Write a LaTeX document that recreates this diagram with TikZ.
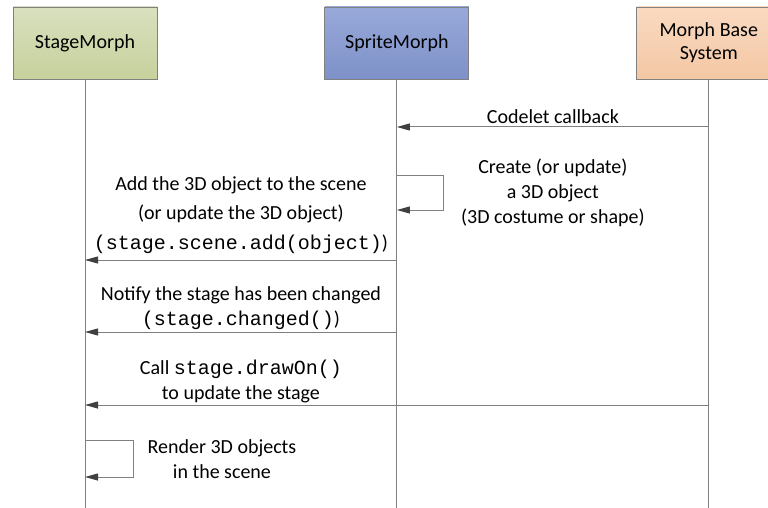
\documentclass[tikz,border=0pt]{standalone}
\usepackage{fontspec}
\setmainfont{Carlito}
\setmonofont{Liberation Mono}
\usetikzlibrary{arrows.meta, positioning, calc}
\definecolor{LineGrey}{HTML}{808080}
\definecolor{TipGrey}{HTML}{404040}
\definecolor{StageTop}{HTML}{D9E0BE}
\definecolor{StageBot}{HTML}{C7D19C}
\definecolor{SpriteTop}{HTML}{98A9D9}
\definecolor{SpriteBot}{HTML}{7E91C8}
\definecolor{BaseTop}{HTML}{FADAC1}
\definecolor{BaseBot}{HTML}{F3C7A4}
\tikzstyle{object} = [rectangle, draw=LineGrey, minimum width=144pt, minimum height=72pt, text centered, align=center, line width=0.9pt]
\tikzstyle{lifeline} = [color=LineGrey, line width=0.9pt]
\tikzstyle{msg} = [color=LineGrey, line width=1pt, -{Triangle[length=13pt, width=7pt, color=TipGrey]}]
\tikzstyle{note} = [align=center, text=black, inner sep=2pt]

\begin{document}
\begin{tikzpicture}[x=1pt, y=-1pt, font=\fontsize{20}{25}\selectfont]
        \useasboundingbox (0,0) rectangle (768,508);
        \node [object, top color=StageTop, bottom color=StageBot] (stage) at (85,43) {StageMorph};
        \node [object, right=167pt of stage, top color=SpriteTop, bottom color=SpriteBot] (sprite) {SpriteMorph};
        \node [object, right=167pt of sprite, top color=BaseTop, bottom color=BaseBot] (base) {Morph Base\\[-2pt]System};

        % Lifelines
        \coordinate (end) at (0,508);
        \draw [lifeline] (stage.south) -- (stage |- end);
        \draw [lifeline] (sprite.south) -- (sprite |- end);
        \draw [lifeline] (base.south) -- (base |- end);

        % Message heights
        \coordinate (m1) at (0,127);
        \coordinate (s1) at (0,175);
        \coordinate (t1) at (0,210);
        \coordinate (m2) at (0,260);
        \coordinate (m3) at (0,332);
        \coordinate (m4) at (0,405);
        \coordinate (s2) at (0,440);
        \coordinate (t2) at (0,477);

        % Messages
        \draw [msg] (base |- m1) -- node[above=1pt, note] {Codelet callback} (sprite |- m1);
        \draw [msg] (sprite |- s1) -- ++(47,0) |- (sprite |- t1);
        \node [note] (create) at ($(sprite |- s1)!.5!(base |- t1)$) {Create (or update)\\a 3D object\\(3D costume or shape)};
        \draw [msg] (sprite |- m2) -- node[above=4pt, note] {Add the 3D object to the scene\\[4pt](or update the 3D object)\\[5pt]\texttt{(stage.scene.add(object)})} (stage |- m2);
        \draw [msg] (sprite |- m3) -- node[above, note] {Notify the stage has been changed\\\texttt{(stage.changed()})} (stage |- m3);
        \draw [msg] (base |- m4) -- node[above, note, pos=0.75] {Call \texttt{stage.drawOn()}\\to update the stage} (stage |- m4);
        \draw [msg] (stage |- s2) -- ++(48,0) |- (stage |- t2);
        \node [note] (render) at ($(stage |- s2)!.5!(sprite |- t2) + (-19,1)$) {Render 3D objects\\in the scene};
    \end{tikzpicture}
\end{document}
